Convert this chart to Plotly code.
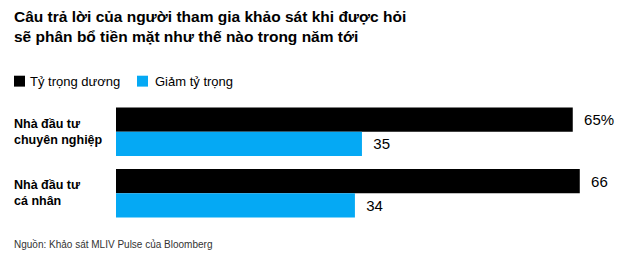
import plotly.graph_objects as go

categories = ["Nhà đầu tư<br>chuyên nghiệp", "Nhà đầu tư<br>cá nhân"]
series_names = ["Tỷ trọng dương", "Giảm tỷ trọng"]
overweight = [65, 66]
underweight = [35, 34]
colors = ["#000000", "#05a9f4"]

title_text = "Câu trả lời của người tham gia khảo sát khi được hỏi<br>sẽ phân bổ tiền mặt như thế nào trong năm tới"
source_text = "Nguồn: Khảo sát MLIV Pulse của Bloomberg"

FONT = "Liberation Sans, Arial, sans-serif"
NB = "\u00a0\u00a0"

ov_text = [NB + (f"{v}%" if i == 0 else f"{v}") for i, v in enumerate(overweight)]
un_text = [NB + f"{v}" for v in underweight]

W, H = 640, 265
L, R, T, B = 116, 4, 100.5, 40.5
pw = W - L - R
ph = H - T - B

def px_x(px):
    return (px - L) / pw

def px_y(py):
    return (H - B - py) / ph

fig = go.Figure()
fig.add_trace(go.Bar(
    y=categories, x=overweight, orientation="h", name=series_names[0],
    marker=dict(color=colors[0], line=dict(width=0)),
    text=ov_text, textposition="outside", cliponaxis=False, constraintext="none",
    textfont=dict(family=FONT, size=15, color="#000000"),
))
fig.add_trace(go.Bar(
    y=categories, x=underweight, orientation="h", name=series_names[1],
    marker=dict(color=colors[1], line=dict(width=0)),
    text=un_text, textposition="outside", cliponaxis=False, constraintext="none",
    textfont=dict(family=FONT, size=15, color="#000000"),
))

annotations = []
for c in categories:
    annotations.append(dict(
        x=px_x(12), xref="paper", y=c, yref="y", text=f"<b>{c}</b>", showarrow=False,
        xanchor="left", align="left", font=dict(family=FONT, size=12.5, color="#000000"),
    ))
annotations.append(dict(
    x=px_x(12), xref="paper", y=px_y(245), yref="paper", text=source_text, showarrow=False,
    xanchor="left", yanchor="middle", font=dict(family=FONT, size=10, color="#333333"),
))
annotations.append(dict(
    x=px_x(12), xref="paper", y=px_y(5), yref="paper", text=f"<b>{title_text}</b>",
    showarrow=False, xanchor="left", yanchor="top", align="left",
    font=dict(family=FONT, size=15.5, color="#000000"),
))

# legend (manual, to match the tight swatch-to-label spacing)
legend_items = [(14, 28), (137, 153)]
shapes = []
for (sx, tx), name, col in zip(legend_items, series_names, colors):
    shapes.append(dict(type="rect", xref="paper", yref="paper",
                       x0=px_x(sx), x1=px_x(sx + 11), y0=px_y(75), y1=px_y(86),
                       fillcolor=col, line=dict(width=0)))
    annotations.append(dict(x=px_x(tx), xref="paper", y=px_y(80.5), yref="paper",
                            text=name, showarrow=False, xanchor="left", yanchor="middle",
                            font=dict(family=FONT, size=13, color="#000000")))

fig.update_layout(
    width=W, height=H,
    margin=dict(l=L, r=R, t=T, b=B, pad=0),
    paper_bgcolor="#ffffff", plot_bgcolor="#ffffff",
    barmode="group", bargap=0.21, bargroupgap=0,
    showlegend=False,
    xaxis=dict(range=[0, 74], visible=False, fixedrange=True),
    yaxis=dict(autorange="reversed", showticklabels=False, showgrid=False, zeroline=False,
               showline=False, ticks="", fixedrange=True),
    annotations=annotations,
    shapes=shapes,
)

fig.write_html("out.html", config={"displayModeBar": False})
